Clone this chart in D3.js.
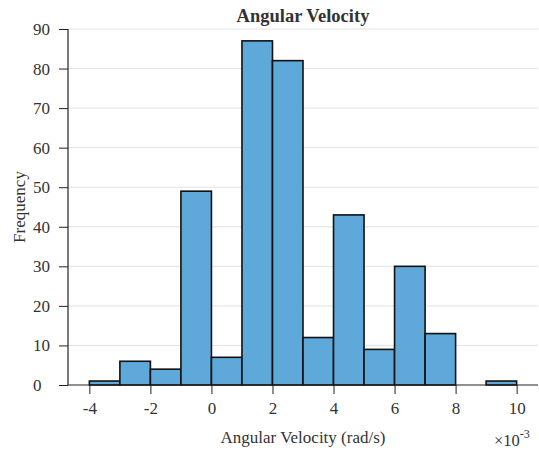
<!DOCTYPE html>
<html>
<head>
<meta charset="utf-8">
<script src="https://cdn.jsdelivr.net/npm/d3@7/dist/d3.min.js"></script>
<style>
  html, body { margin: 0; padding: 0; background: #fff; }
  svg { display: block; }
  text { font-family: "Liberation Serif", "DejaVu Serif", serif; fill: #333; }
</style>
</head>
<body>
<div id="chart"></div>
<script>
// Histogram bins (angular velocity in units of 1e-3 rad/s)
const binStarts = [-4, -3, -2, -1, 0, 1, 2, 3, 4, 5, 6, 7, 8, 9];
const binWidth = 1;
const counts = [1, 6, 4, 49, 7, 87, 82, 12, 43, 9, 30, 13, 0, 1];
const xTicks = [-4, -2, 0, 2, 4, 6, 8, 10];
const yTicks = [0, 10, 20, 30, 40, 50, 60, 70, 80, 90];

const W = 539, H = 452;
const m = { left: 68, right: 538, top: 29, bottom: 385 };
const fmt = d => String(d);   // plain hyphen for negatives

const svg = d3.select("#chart").append("svg")
  .attr("width", W).attr("height", H);

const x = d3.scaleLinear().domain([-4.7, 10.7]).range([m.left, m.right]);
const y = d3.scaleLinear().domain([0, 90]).range([m.bottom, m.top]);

// horizontal grid
svg.append("g").selectAll("line")
  .data(yTicks.filter(d => d > 0))
  .join("line")
  .attr("x1", m.left).attr("x2", m.right)
  .attr("y1", d => y(d)).attr("y2", d => y(d))
  .attr("stroke", "#e2e2e2").attr("stroke-width", 1);

// bars
svg.append("g").selectAll("rect")
  .data(binStarts.map((s, i) => ({ s, c: counts[i] })))
  .join("rect")
  .attr("x", d => x(d.s))
  .attr("width", d => x(d.s + binWidth) - x(d.s))
  .attr("y", d => y(d.c))
  .attr("height", d => y(0) - y(d.c))
  .attr("fill", "#5ea8da")
  .attr("stroke", "#111")
  .attr("stroke-width", 1.6);

// x axis
const xAxis = svg.append("g").attr("transform", `translate(0,${m.bottom})`);
xAxis.call(d3.axisBottom(x).tickValues(d3.range(-4.5, 10.51, 0.5)).tickSize(6).tickFormat(""))
  .call(g => g.select(".domain").remove());
xAxis.call(d3.axisBottom(x).tickValues(xTicks).tickSize(9).tickPadding(8).tickFormat(fmt))
  .call(g => g.select(".domain").remove());
xAxis.selectAll("text").style("font-size", "17px").attr("fill", "#444")
  .style("font-family", "Liberation Serif, serif");
xAxis.selectAll("line").attr("stroke", "#222");
xAxis.append("line").attr("x1", m.left).attr("x2", m.right)
  .attr("stroke", "#222").attr("stroke-width", 1.2);

// y axis
const yAxis = svg.append("g").attr("transform", `translate(${m.left},0)`);
yAxis.call(d3.axisLeft(y).tickValues(d3.range(0, 90.1, 2)).tickSize(5).tickFormat(""))
  .call(g => g.select(".domain").remove());
yAxis.call(d3.axisLeft(y).tickValues(yTicks).tickSize(9).tickPadding(5).tickFormat(fmt))
  .call(g => g.select(".domain").remove());
yAxis.selectAll("text").style("font-size", "17px").attr("fill", "#444")
  .style("font-family", "Liberation Serif, serif")
  .attr("text-anchor", "start").attr("x", 33 - m.left);
yAxis.selectAll("line").attr("stroke", "#222");
yAxis.append("line").attr("y1", m.top).attr("y2", m.bottom)
  .attr("stroke", "#222").attr("stroke-width", 1.2);

// title
svg.append("text")
  .attr("x", (m.left + m.right) / 2).attr("y", 22)
  .attr("text-anchor", "middle")
  .style("font-size", "18.5px").style("font-weight", "bold").attr("fill", "#111")
  .text("Angular Velocity");

// axis labels
svg.append("text")
  .attr("x", (m.left + m.right) / 2).attr("y", 443)
  .attr("text-anchor", "middle")
  .style("font-size", "17px").attr("fill", "#444")
  .text("Angular Velocity (rad/s)");

svg.append("text")
  .attr("transform", `translate(25,${(m.top + m.bottom) / 2}) rotate(-90)`)
  .attr("text-anchor", "middle")
  .style("font-size", "17px").attr("fill", "#444")
  .text("Frequency");

// exponent multiplier
const ex = svg.append("text").attr("x", 494).attr("y", 446)
  .style("font-size", "16.5px").attr("fill", "#444");
ex.append("tspan").text("×10");
ex.append("tspan").attr("dy", -8).style("font-size", "12px").text("-3");
</script>
</body>
</html>
